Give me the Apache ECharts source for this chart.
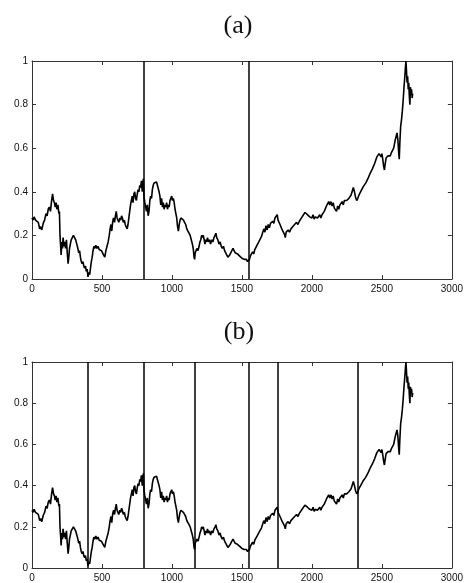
<!DOCTYPE html>
<html>
<head>
<meta charset="utf-8">
<script src="https://cdn.jsdelivr.net/npm/echarts@6/dist/echarts.min.js"></script>
<style>html,body{margin:0;padding:0;background:#fff}#c{width:466px;height:583px}</style>
</head>
<body>
<div id="c"></div>
<script>
// Series (same in both panels): x index and normalised value
var xs = [0,8,15,25,35,45,55,62,70,80,90,100,108,116,124,132,140,147,154,160,166,172,178,185,192,196,200,204,208,213,218,222,228,234,240,246,252,258,263,268,274,280,288,296,304,312,320,328,334,340,346,352,358,364,370,376,382,388,394,400,406,412,418,424,430,436,442,448,456,464,472,480,488,496,504,512,520,528,536,544,552,558,564,570,576,582,590,596,602,608,614,620,628,634,640,646,652,660,666,672,680,686,692,698,704,710,716,722,728,734,740,746,752,758,764,770,776,782,788,792,796,800,806,812,818,824,830,836,842,848,854,860,866,872,878,884,890,896,902,908,914,920,926,932,938,944,950,956,962,968,974,980,986,992,998,1004,1010,1016,1022,1028,1034,1040,1046,1052,1058,1064,1070,1076,1082,1090,1098,1106,1114,1122,1130,1138,1146,1152,1158,1162,1166,1172,1178,1186,1194,1200,1206,1212,1218,1224,1230,1236,1242,1248,1254,1260,1268,1276,1284,1292,1300,1308,1314,1320,1328,1336,1344,1352,1360,1368,1376,1384,1392,1400,1406,1412,1420,1428,1436,1444,1452,1460,1468,1476,1484,1492,1500,1508,1516,1524,1532,1540,1548,1554,1560,1568,1576,1584,1592,1600,1608,1616,1624,1632,1640,1648,1656,1664,1672,1680,1688,1696,1704,1712,1720,1728,1736,1744,1752,1758,1764,1772,1780,1788,1796,1804,1810,1816,1822,1830,1840,1850,1860,1870,1880,1890,1900,1910,1920,1930,1940,1950,1960,1968,1976,1984,1992,2000,2008,2016,2024,2032,2040,2048,2056,2064,2072,2080,2088,2096,2104,2112,2120,2128,2136,2144,2152,2160,2168,2176,2184,2192,2200,2208,2216,2224,2232,2240,2248,2256,2264,2272,2280,2288,2296,2304,2312,2320,2328,2336,2344,2352,2360,2368,2376,2384,2392,2400,2408,2416,2424,2432,2440,2448,2456,2464,2472,2480,2488,2494,2500,2506,2512,2518,2524,2530,2536,2544,2552,2560,2568,2576,2584,2590,2596,2602,2608,2614,2620,2624,2628,2634,2640,2646,2652,2658,2664,2668,2672,2676,2680,2684,2688,2692,2696,2700,2704,2708,2712,2716,2720];
var ys = [0.28,0.27,0.285,0.27,0.275,0.26,0.23,0.24,0.225,0.255,0.27,0.30,0.29,0.32,0.33,0.31,0.36,0.39,0.36,0.35,0.33,0.35,0.32,0.34,0.30,0.31,0.20,0.16,0.11,0.17,0.14,0.19,0.15,0.17,0.14,0.18,0.12,0.07,0.10,0.14,0.16,0.18,0.19,0.20,0.19,0.18,0.16,0.14,0.12,0.13,0.10,0.08,0.07,0.08,0.06,0.05,0.06,0.035,0.045,0.01,0.03,0.02,0.05,0.08,0.10,0.13,0.15,0.14,0.155,0.14,0.15,0.135,0.14,0.13,0.12,0.11,0.10,0.13,0.15,0.17,0.20,0.23,0.25,0.22,0.26,0.28,0.26,0.29,0.31,0.28,0.27,0.26,0.28,0.27,0.29,0.28,0.26,0.27,0.25,0.24,0.23,0.25,0.28,0.31,0.34,0.36,0.38,0.35,0.39,0.40,0.37,0.36,0.39,0.41,0.40,0.43,0.42,0.45,0.40,0.44,0.46,0.38,0.35,0.33,0.31,0.34,0.29,0.31,0.36,0.38,0.37,0.41,0.43,0.44,0.445,0.44,0.445,0.43,0.43,0.40,0.38,0.34,0.37,0.33,0.35,0.32,0.34,0.33,0.35,0.32,0.34,0.33,0.36,0.37,0.38,0.36,0.37,0.35,0.32,0.30,0.28,0.24,0.22,0.25,0.27,0.28,0.275,0.285,0.27,0.26,0.25,0.23,0.22,0.21,0.20,0.18,0.16,0.14,0.10,0.09,0.12,0.13,0.14,0.13,0.15,0.17,0.18,0.20,0.19,0.20,0.18,0.16,0.18,0.17,0.19,0.17,0.18,0.16,0.18,0.17,0.19,0.20,0.21,0.19,0.18,0.16,0.17,0.15,0.14,0.15,0.13,0.125,0.11,0.10,0.095,0.11,0.12,0.13,0.14,0.135,0.12,0.125,0.115,0.11,0.105,0.10,0.095,0.10,0.09,0.085,0.09,0.08,0.075,0.09,0.105,0.10,0.125,0.115,0.135,0.13,0.155,0.15,0.175,0.17,0.195,0.20,0.23,0.215,0.245,0.225,0.25,0.235,0.255,0.25,0.265,0.255,0.28,0.275,0.295,0.27,0.275,0.25,0.245,0.225,0.225,0.205,0.19,0.215,0.215,0.225,0.215,0.23,0.225,0.245,0.24,0.26,0.25,0.265,0.265,0.285,0.28,0.305,0.30,0.295,0.30,0.285,0.29,0.28,0.295,0.275,0.285,0.29,0.28,0.285,0.295,0.28,0.295,0.30,0.31,0.305,0.335,0.335,0.355,0.34,0.355,0.335,0.35,0.325,0.325,0.31,0.335,0.32,0.34,0.335,0.355,0.34,0.36,0.355,0.36,0.365,0.37,0.37,0.385,0.39,0.42,0.40,0.375,0.36,0.37,0.385,0.38,0.405,0.40,0.425,0.42,0.44,0.435,0.46,0.465,0.485,0.48,0.505,0.51,0.53,0.535,0.56,0.555,0.575,0.575,0.56,0.575,0.55,0.52,0.50,0.53,0.555,0.56,0.565,0.57,0.565,0.58,0.585,0.60,0.62,0.64,0.655,0.67,0.64,0.58,0.55,0.62,0.70,0.73,0.77,0.82,0.88,0.93,0.97,1.00,0.95,0.90,0.93,0.87,0.90,0.84,0.80,0.88,0.85,0.87,0.83,0.85];
var changePointsA = [797, 1552];
var changePointsB = [400, 797, 1160, 1552, 1757, 2325];
var xTicks = ['0','500','1000','1500','2000','2500','3000'];
var yTicks = ['0','0.2','0.4','0.6','0.8','1'];
var panelTitles = ['(a)', '(b)'];

var pts = xs.map(function (x, i) { return [x, ys[i]]; });
var axisColor = '#333';
var labelFont = { fontFamily: 'Liberation Sans, Arial, sans-serif', fontSize: 10, color: '#111' };

var grids = [
  { left: 32, top: 61, width: 423, height: 218 },
  { left: 32, top: 362, width: 423, height: 206 }
];

function xAx(g, pos) {
  return {
    type: 'value', gridIndex: g, position: pos, min: 0, max: 3000, interval: 500,
    axisLine: { show: true, onZero: false, lineStyle: { color: axisColor, width: 1 } },
    axisTick: { show: true, inside: true, length: 4, lineStyle: { color: axisColor } },
    axisLabel: pos === 'bottom' ? Object.assign({ show: true, margin: 5, formatter: function (v) { return xTicks[Math.round(v / 500)]; } }, labelFont) : { show: false },
    splitLine: { show: false }
  };
}
function yAx(g, pos) {
  return {
    type: 'value', gridIndex: g, position: pos, min: 0, max: 1, interval: 0.2,
    axisLine: { show: true, onZero: false, lineStyle: { color: axisColor, width: 1 } },
    axisTick: { show: true, inside: true, length: 4, lineStyle: { color: axisColor } },
    axisLabel: pos === 'left' ? Object.assign({ show: true, margin: 4, formatter: function (v) { return yTicks[Math.round(v / 0.2)]; } }, labelFont) : { show: false },
    splitLine: { show: false }
  };
}

function mk(cps) {
  return {
    silent: true, symbol: 'none', animation: false,
    label: { show: false },
    lineStyle: { color: '#000', type: 'solid', width: 1.5 },
    data: cps.map(function (c) { return { xAxis: c }; })
  };
}

var titleStyle = { fontFamily: 'Liberation Serif, Times New Roman, serif', fontSize: 26, fontWeight: 'normal', color: '#111' };
var option = {
  animation: false,
  backgroundColor: '#fff',
  title: [
    { text: panelTitles[0], left: 233, top: 8, textAlign: 'center', textStyle: titleStyle },
    { text: panelTitles[1], left: 234, top: 314, textAlign: 'center', textStyle: titleStyle }
  ],
  grid: grids,
  xAxis: [xAx(0, 'bottom'), xAx(0, 'top'), xAx(1, 'bottom'), xAx(1, 'top')],
  yAxis: [yAx(0, 'left'), yAx(0, 'right'), yAx(1, 'left'), yAx(1, 'right')],
  series: [
    { type: 'line', xAxisIndex: 0, yAxisIndex: 0, data: pts, showSymbol: false, lineStyle: { color: '#000', width: 1.6 }, markLine: mk(changePointsA) },
    { type: 'line', xAxisIndex: 2, yAxisIndex: 2, data: pts, showSymbol: false, lineStyle: { color: '#000', width: 1.6 }, markLine: mk(changePointsB) }
  ]
};
echarts.init(document.getElementById('c'), null, { renderer: 'canvas' }).setOption(option);
</script>
</body>
</html>
